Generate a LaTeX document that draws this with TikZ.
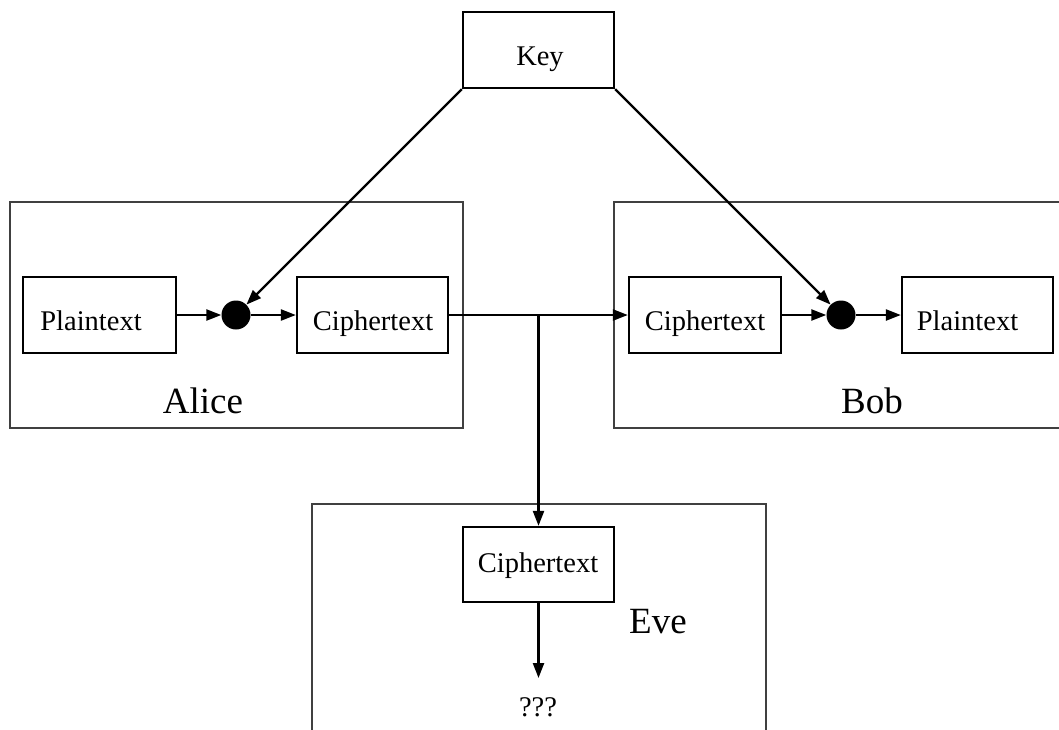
\documentclass[tikz,border=0pt]{standalone}
\usepackage{fontspec}
\setmainfont{Liberation Serif}
\usetikzlibrary{arrows.meta}
\begin{document}
\begin{tikzpicture}[x=1pt,y=-1pt,
 box/.style={draw, line width=2.3pt, minimum width=152pt, minimum height=76pt, inner sep=0pt},
 party/.style={draw=black!75, line width=1.3pt, inner sep=0pt},
 lbl/.style={font=\fontsize{28.5}{34}\selectfont, anchor=base, inner sep=0pt},
 big/.style={font=\fontsize{37}{44}\selectfont, anchor=base, inner sep=0pt},
 dot/.style={circle, fill=black, minimum size=29pt, inner sep=0pt},
 arr/.style={line width=2.3pt, -{Triangle[length=15pt,width=11pt]}}]
\useasboundingbox (0,0) rectangle (1059,729);
\clip (0,0) rectangle (1059,729);
% party boxes
\node[party, minimum width=453pt, minimum height=226pt] (alice) at (236.5,315) {};
\node[party, minimum width=461pt, minimum height=226pt] (bob) at (844.5,315) {};
\node[party, minimum width=454pt, minimum height=241pt] (eve) at (539,624.5) {};
% key
\node[box, minimum width=151pt] (key) at (538.5,50) {};
\node[lbl] (keyt) at (540,65) {Key};
% Alice
\node[box, minimum width=153pt] (pa) at (99.5,315) {};
\node[lbl] (pat) at (91,330) {Plaintext};
\node[dot] (da) at (236,315) {};
\node[box, minimum width=151pt] (ca) at (372.5,315) {};
\node[lbl] (cat) at (373,330) {Ciphertext};
\node[big] (alicet) at (203,413) {Alice};
% Bob
\node[box] (cb) at (705,315) {};
\node[lbl] (cbt) at (705,330) {Ciphertext};
\node[dot] (db) at (841,315) {};
\node[box, minimum width=151pt] (pb) at (977.5,315) {};
\node[lbl] (pbt) at (967.5,330) {Plaintext};
\node[big] (bobt) at (872,413) {Bob};
% Eve
\node[box, minimum width=151pt, minimum height=75pt] (ce) at (538.5,564.5) {};
\node[lbl] (cet) at (538,572) {Ciphertext};
\node[big] (evet) at (658,633) {Eve};
\node[lbl] (q) at (538,716) {???};
\coordinate (qtip) at (538.5,678);
% connectors
\draw[arr] (key.south west) -- (da);
\draw[arr] (key.south east) -- (db);
\draw[arr] (pa.east) -- (da);
\draw[arr] (da) -- (ca.west);
\draw[arr] (ca.east) -- (cb.west);
\coordinate (j) at (ce.north |- ca.east);
\draw[arr] (j) -- (ce.north);
\draw[arr] (cb.east) -- (db);
\draw[arr] (db) -- (pb.west);
\draw[arr] (ce.south) -- (qtip);
\end{tikzpicture}
\end{document}
